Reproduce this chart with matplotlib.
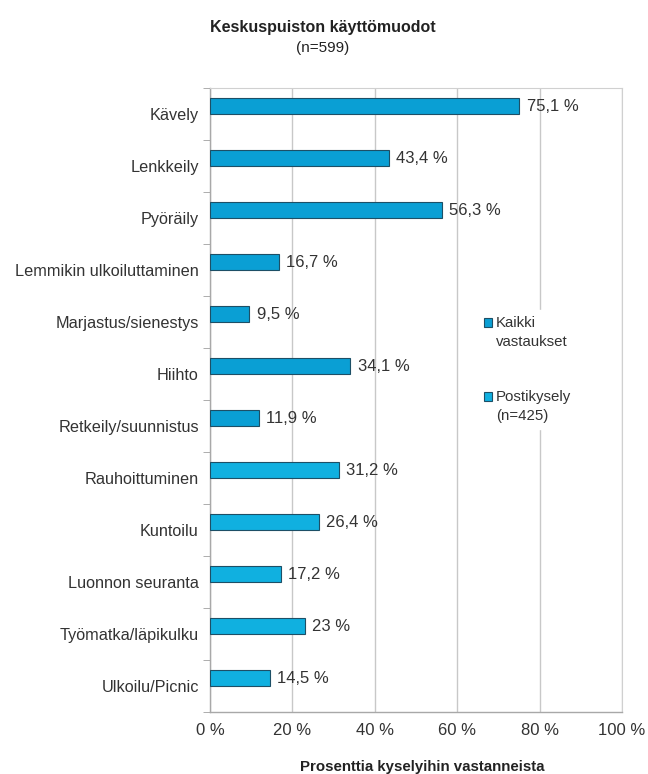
import numpy as np
import matplotlib
matplotlib.use("Agg")
import matplotlib.pyplot as plt
from matplotlib.patches import Patch

plt.rcParams['font.family'] = ['Liberation Sans', 'DejaVu Sans']

categories = ["Kävely", "Lenkkeily", "Pyöräily", "Lemmikin ulkoiluttaminen",
              "Marjastus/sienestys", "Hiihto", "Retkeily/suunnistus",
              "Rauhoittuminen", "Kuntoilu", "Luonnon seuranta",
              "Työmatka/läpikulku", "Ulkoilu/Picnic"]
kaikki = [75.1, 43.4, 56.3, 16.7, 9.5, 34.1, 11.9, np.nan, np.nan, np.nan, np.nan, np.nan]
posti = [np.nan, np.nan, np.nan, np.nan, np.nan, np.nan, np.nan, 31.2, 26.4, 17.2, 23.0, 14.5]
series_labels = [["Kaikki", "vastaukset"], ["Postikysely", "(n=425)"]]
xticks = [0, 20, 40, 60, 80, 100]

c1 = "#0A9FD4"
c2 = "#10B0E0"
ec = "#1d4f66"

fig = plt.figure(figsize=(6.48, 7.74), dpi=100)
ax = fig.add_axes([0.324, 0.080, 0.636, 0.806])

y = np.arange(len(categories))
off = -0.155
h = 0.31
ax.barh(y + off, kaikki, height=h, color=c1, edgecolor=ec, linewidth=0.8, zorder=3)
ax.barh(y + off, posti, height=h, color=c2, edgecolor=ec, linewidth=0.8, zorder=3)

vals = [k if not np.isnan(k) else p for k, p in zip(kaikki, posti)]
for yi, v in zip(y, vals):
    s = ("%.1f" % v).replace(".", ",")
    if s.endswith(",0"):
        s = s[:-2]
    ax.text(v + 1.8, yi + off, s + " %", va="center", ha="left",
            fontsize=12, color="#333333")

ax.set_xlim(0, 100)
ax.set_ylim(len(categories) - 0.5, -0.5)
ax.set_xticks(xticks)
ax.set_xticklabels(["%d %%" % t for t in xticks], fontsize=12, color="#333333")
ax.set_yticks(y)
ax.set_yticklabels(categories, fontsize=11.7, color="#333333")
ax.tick_params(axis="y", length=0, pad=8)
ax.tick_params(axis="x", length=0, pad=8)
ax.set_yticks(np.arange(len(categories) + 1) - 0.5, minor=True)
ax.tick_params(axis="y", which="minor", length=5, color="#a0a0a0", direction="out")
ax.grid(axis="x", color="#c8c8c8", linewidth=1.0, zorder=0)
ax.set_axisbelow(True)
for side in ["top", "right"]:
    ax.spines[side].set_color("#d0d0d0")
for side in ["left", "bottom"]:
    ax.spines[side].set_color("#a8a8a8")
    ax.spines[side].set_linewidth(1.0)

# legend: handle aligned with first text line of each entry
blank = Patch(facecolor="none", edgecolor="none")
handles = [Patch(facecolor=c1, edgecolor=ec, linewidth=0.8), blank, blank, blank,
           Patch(facecolor=c2, edgecolor=ec, linewidth=0.8), blank]
labels = [series_labels[0][0], series_labels[0][1], " ", " ",
          series_labels[1][0], series_labels[1][1]]
leg = ax.legend(handles, labels, loc="upper left", bbox_to_anchor=(0.632, 0.656),
                frameon=True, fontsize=10.8, labelspacing=0.3, handlelength=0.55,
                handleheight=0.55, handletextpad=0.25, borderpad=0.4)
leg.get_frame().set_edgecolor("white")
leg.get_frame().set_facecolor("white")
leg.get_frame().set_alpha(1)
leg.set_zorder(5)
for t in leg.get_texts():
    t.set_color("#333333")

fig.text(0.4985, 0.965, "Keskuspuiston käyttömuodot", ha="center", va="center",
         fontsize=11.5, fontweight="bold", color="#222222")
fig.text(0.4985, 0.938, "(n=599)", ha="center", va="center", fontsize=11, color="#222222")
fig.text(0.652, 0.0, "Prosenttia kyselyihin vastanneista", ha="center", va="bottom",
         fontsize=10.8, fontweight="bold", color="#222222")

fig.savefig("out.png", dpi=100)
